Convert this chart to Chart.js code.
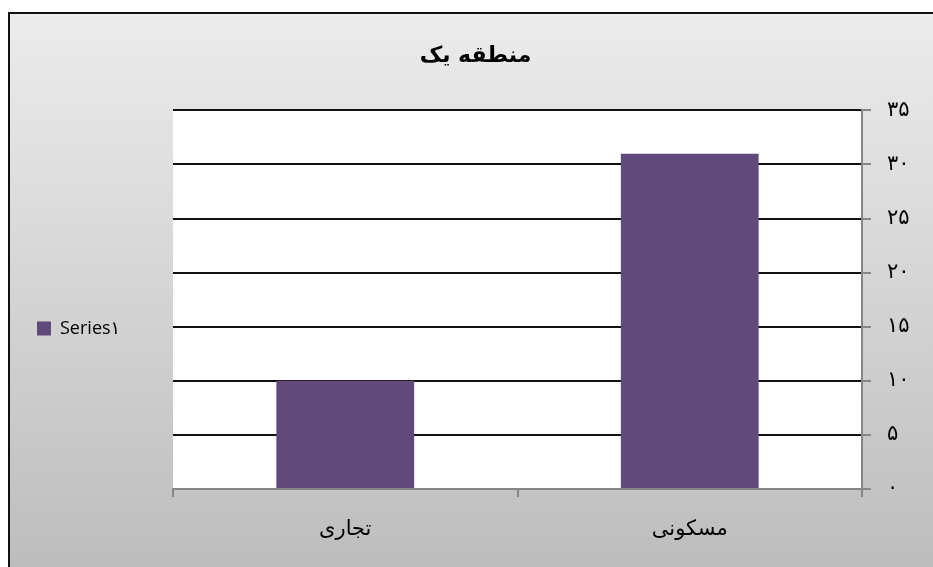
<!DOCTYPE html>
<html>
<head>
<meta charset="utf-8">
<script src="https://cdn.jsdelivr.net/npm/chart.js@4.4.1/dist/chart.umd.min.js"></script>
<style>
  body { margin: 0; background: #fff; }
  canvas { display: block; }
</style>
</head>
<body>
<canvas id="myChart" width="933" height="567"></canvas>
<script>
// data (x axis is reversed, RTL)
const categories = ['مسکونی', 'تجاری'];
const seriesValues = [31, 10];
const seriesName = 'Series۱';
const yTickLabels = ['۰', '۵', '۱۰', '۱۵', '۲۰', '۲۵', '۳۰', '۳۵'];
const chartTitle = 'منطقه یک';

const axisGray = '#868686';
const arabicFont = "'DejaVu Sans', sans-serif";

// gray gradient panel with black frame + white plot area
const panelBackground = {
  id: 'panelBackground',
  beforeDraw(chart) {
    const { ctx, width, height, chartArea } = chart;
    ctx.save();
    ctx.fillStyle = '#fff';
    ctx.fillRect(0, 0, width, height);
    const grad = ctx.createLinearGradient(0, 12, 0, height);
    grad.addColorStop(0, '#ececec');
    grad.addColorStop(1, '#bdbdbd');
    ctx.fillStyle = grad;
    ctx.fillRect(8, 12, width - 8, height - 12);
    ctx.strokeStyle = '#111';
    ctx.lineWidth = 2;
    ctx.beginPath();
    ctx.moveTo(9, height);
    ctx.lineTo(9, 13);
    ctx.lineTo(width, 13);
    ctx.stroke();
    ctx.fillStyle = '#fff';
    ctx.fillRect(chartArea.left, chartArea.top, chartArea.right - chartArea.left, chartArea.bottom - chartArea.top);
    ctx.restore();
  }
};

new Chart(document.getElementById('myChart'), {
  type: 'bar',
  data: {
    labels: categories,
    datasets: [{
      label: seriesName,
      data: seriesValues,
      backgroundColor: '#604a7b',
      borderWidth: 0,
      categoryPercentage: 1,
      barPercentage: 0.4
    }]
  },
  options: {
    responsive: false,
    animation: false,
    layout: { padding: { left: 18, right: 0, top: 0, bottom: 0 } },
    plugins: {
      title: {
        display: true,
        text: chartTitle,
        color: '#000',
        font: { family: arabicFont, size: 22, weight: 'bold' },
        padding: { top: 43, bottom: 41 }
      },
      legend: {
        position: 'left',
        // empty title only pushes the item down to where the reference has it
        title: { display: true, text: '', font: { size: 10 }, padding: { top: 78, bottom: 0 } },
        labels: {
          boxWidth: 14,
          boxHeight: 14,
          padding: 19,
          color: '#000',
          font: { family: "'Open Sans', 'DejaVu Sans', sans-serif", size: 18 }
        }
      },
      tooltip: { enabled: false }
    },
    scales: {
      x: {
        reverse: true,
        grid: { drawOnChartArea: false, offset: true, tickLength: 8, tickColor: axisGray, lineWidth: 2 },
        border: { color: axisGray, width: 2 },
        ticks: { color: '#000', padding: 20, font: { family: arabicFont, size: 21 } },
        afterFit(scale) { scale.height = 78; }
      },
      y: {
        position: 'right',
        min: 0,
        max: 35,
        ticks: {
          stepSize: 5,
          color: '#000',
          padding: 16,
          font: { family: arabicFont, size: 21 },
          callback: (v, i) => yTickLabels[i]
        },
        grid: {
          color: ctx => (ctx.tick && ctx.tick.value === 0 ? 'rgba(0,0,0,0)' : '#111'),
          tickColor: axisGray,
          tickLength: 9,
          lineWidth: 2
        },
        border: { color: axisGray, width: 2 },
        afterFit(scale) { scale.width = 71; }
      },
      // empty left spacer so the plot starts where the reference does
      spacer: {
        type: 'linear',
        position: 'left',
        grid: { display: false },
        border: { display: false },
        ticks: { display: false },
        afterFit(scale) {
          const lw = scale.chart.legend ? scale.chart.legend.width : 120;
          scale.width = Math.max(0, 155 - lw);
        }
      }
    }
  },
  plugins: [panelBackground]
});
</script>
</body>
</html>
